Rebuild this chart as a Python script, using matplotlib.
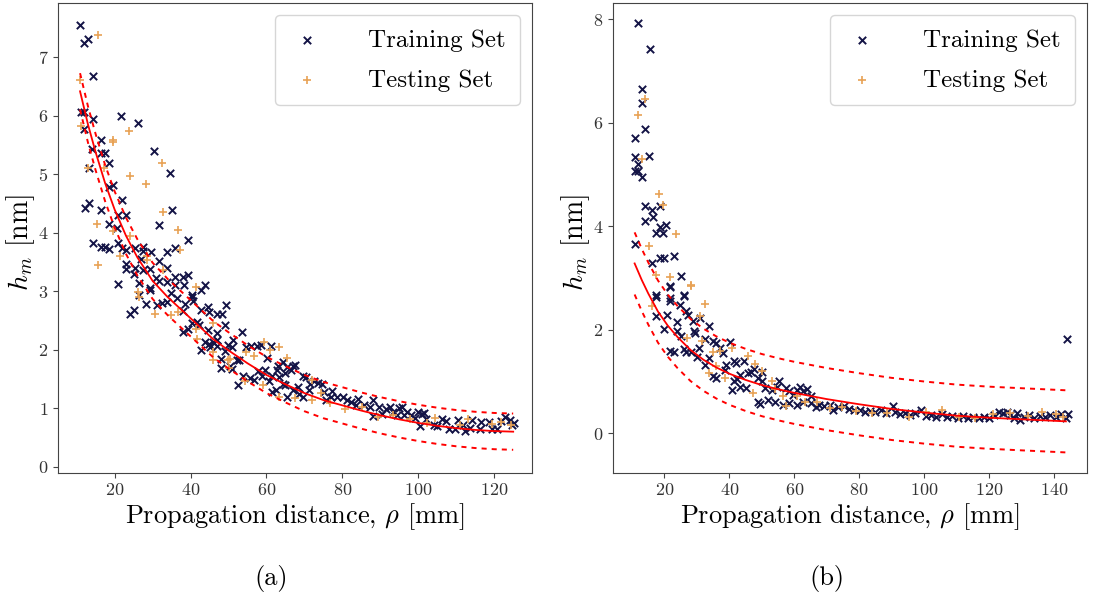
import matplotlib
matplotlib.use("Agg")
import matplotlib.pyplot as plt

plt.rcParams['font.family'] = 'serif'
plt.rcParams['font.serif'] = ['cmr10']
plt.rcParams['mathtext.fontset'] = 'cm'
plt.rcParams['axes.formatter.use_mathtext'] = True
plt.rcParams['axes.unicode_minus'] = False

# ---------------- panel (a) ----------------
a_train_x = [10.9, 12.0, 13.1, 14.3, 11.1, 12.0, 14.3, 12.0, 16.4, 14.1, 16.4, 17.6, 18.6, 13.3,
             21.8, 26.2, 30.5, 34.7, 19.7, 18.5, 21.9, 12.2, 13.2, 16.5, 23.1, 20.9, 18.6, 20.7,
             31.6, 35.0, 14.3, 16.5, 17.6, 18.6, 20.8, 22.0, 23.0, 25.3, 27.4, 27.5, 29.5, 27.0,
             31.6, 33.9, 35.9, 39.4, 22.9, 23.1, 25.4, 25.2, 27.4, 29.4, 33.9, 30.8, 31.7, 33.8,
             35.9, 38.1, 39.4, 20.9, 26.4, 29.4, 35.9, 38.3, 43.9, 42.7, 40.3, 26.4,
             24.1, 25.2, 29.4, 28.4, 31.1, 32.4, 33.9, 34.9, 36.5, 38.1, 38.6, 40.4, 40.6, 42.8,
             44.7, 44.9, 47.0, 48.3, 49.4, 38.1, 39.4, 40.3, 41.7, 42.3, 44.7, 47.1, 49.2, 42.8,
             43.7, 44.9, 45.8, 47.0, 45.2, 46.9, 48.1, 49.1, 49.9, 50.8, 51.3, 53.6, 52.2, 52.8,
             47.9, 50.3, 50.8, 52.4, 53.8, 54.5, 56.0, 57.4, 58.5, 61.2, 60.2, 55.6, 56.8, 57.8,
             58.7, 59.7, 60.7, 61.5, 62.7, 63.0, 64.4, 65.4, 64.8, 66.5, 67.0, 67.6, 64.9, 64.4,
             63.3, 61.5, 62.4, 65.5, 67.1, 68.4, 68.7, 69.6, 70.5, 69.6, 71.1, 71.5, 72.5, 73.7,
             74.7, 75.1, 75.8, 76.9, 77.4, 78.7, 80.1, 81.2, 82.3, 83.5, 84.2, 85.8, 87.3, 88.2,
             88.2, 89.6, 90.4, 91.4, 92.6, 93.3, 94.4, 95.0, 95.8, 96.2, 96.9, 98.1, 99.2, 99.8,
             100.5, 101.0, 101.6, 102.0, 104.1, 105.0, 106.2, 107.4, 108.0, 109.6, 110.5, 111.8,
             112.4, 113.6, 114.2, 116.2, 116.6, 118.7, 119.5, 120.7, 121.8, 122.9, 124.1, 124.8,
             125.2]
a_train_y = [7.56, 7.24, 7.31, 6.68, 6.07, 6.07, 5.95, 5.78, 5.58, 5.43, 5.37, 5.37, 5.19, 5.11,
             6.00, 5.87, 5.40, 5.03, 4.82, 4.78, 4.56, 4.42, 4.51, 4.39, 4.31, 4.30, 4.15, 4.08,
             4.14, 4.39, 3.82, 3.76, 3.76, 3.72, 3.83, 3.74, 3.71, 3.74, 3.75, 3.69, 3.68, 3.56,
             3.52, 3.67, 3.74, 3.88, 3.47, 3.38, 3.40, 3.29, 3.37, 3.38, 3.40, 3.23, 3.17, 3.16,
             3.24, 3.25, 3.28, 3.13, 3.14, 3.06, 3.10, 3.11, 3.10, 3.02, 2.94, 2.93,
             2.62, 2.68, 3.03, 2.79, 2.76, 2.80, 2.81, 2.97, 2.88, 2.67, 2.78, 2.91, 2.84, 2.68,
             2.73, 2.64, 2.62, 2.61, 2.77, 2.30, 2.36, 2.46, 2.48, 2.43, 2.34, 2.29, 2.43, 1.99,
             2.14, 2.10, 2.13, 2.16, 2.05, 2.07, 1.84, 1.98, 2.09, 2.04, 2.17, 2.31, 1.83, 1.82,
             1.69, 1.73, 1.68, 1.40, 1.55, 2.05, 2.07, 2.07, 2.09, 2.06, 1.86, 1.52, 1.48, 1.64,
             1.56, 1.66, 1.47, 1.56, 1.65, 1.73, 1.79, 1.70, 1.61, 1.65, 1.73, 1.74, 1.39, 1.42,
             1.53, 1.28, 1.31, 1.19, 1.32, 1.37, 1.24, 1.55, 1.54, 1.20, 1.31, 1.42, 1.47, 1.43,
             1.42, 1.27, 1.14, 1.20, 1.30, 1.19, 1.20, 1.14, 1.10, 1.05, 1.16, 1.06, 1.03, 1.15,
             0.86, 1.02, 0.90, 0.98, 1.02, 0.93, 0.88, 1.01, 1.02, 0.89, 0.94, 0.89, 0.84, 0.93,
             0.69, 0.91, 0.92, 0.81, 0.72, 0.70, 0.81, 0.78, 0.64, 0.65, 0.80, 0.71,
             0.61, 0.66, 0.80, 0.64, 0.76, 0.76, 0.64, 0.64, 0.78, 0.85, 0.80, 0.72,
             0.74]

a_test_x = [15.5, 10.9, 11.1, 12.9, 17.3, 19.7, 19.7, 23.9, 24.1, 28.3, 32.5, 32.8, 36.8, 37.2,
            15.3, 15.5, 19.5, 24.1, 21.5, 28.6, 28.6, 32.7, 41.5, 26.2, 26.4, 30.6, 34.9, 36.7,
            41.5, 41.6, 45.8, 45.8, 45.8, 49.9, 50.1, 50.5, 54.4, 54.6, 56.7, 59.3, 59.1, 61.0,
            63.4, 65.4, 63.3, 67.6, 72.0, 72.0, 74.4, 76.7, 80.7, 85.1, 89.4, 93.4, 97.7, 102.3,
            104.4, 111.1, 113.0, 119.4, 121.8, 124.3]
a_test_y = [7.39, 6.61, 5.82, 5.11, 5.11, 5.59, 5.55, 5.74, 4.98, 4.84, 5.20, 4.36, 4.04, 3.71,
            4.15, 3.45, 4.03, 3.94, 3.60, 3.60, 3.54, 3.36, 3.07, 2.98, 2.90, 2.62, 2.60, 2.65,
            2.35, 2.18, 2.46, 1.97, 1.82, 1.82, 1.69, 1.85, 1.46, 1.96, 1.89, 2.14, 1.40, 1.99,
            2.05, 1.86, 1.20, 1.17, 1.15, 1.48, 1.26, 1.09, 0.98, 1.03, 0.85, 0.89, 0.81, 0.74,
            0.84, 0.72, 0.81, 0.73, 0.77, 0.72]

a_fit_x = [10.9, 13, 15, 17.5, 20, 23, 26, 30, 34, 38, 42, 46, 50, 55, 60, 65, 70, 75, 80,
           85, 90, 95, 100, 105, 110, 115, 120, 125]
a_fit_y = [6.42, 5.85, 5.38, 4.85, 4.40, 3.95, 3.58, 3.18, 2.90, 2.66, 2.42, 2.18, 1.99, 1.77,
           1.57, 1.41, 1.26, 1.14, 1.05, 0.96, 0.88, 0.81, 0.75, 0.70, 0.66, 0.63, 0.61, 0.60]
a_upper_y = [6.73, 6.16, 5.69, 5.16, 4.71, 4.26, 3.89, 3.49, 3.21, 2.97, 2.73, 2.49, 2.30, 2.08,
             1.88, 1.72, 1.57, 1.45, 1.36, 1.27, 1.19, 1.12, 1.06, 1.01, 0.97, 0.94, 0.92, 0.91]
a_lower_y = [6.11, 5.54, 5.07, 4.54, 4.09, 3.64, 3.27, 2.87, 2.59, 2.35, 2.11, 1.87, 1.68, 1.46,
             1.26, 1.10, 0.95, 0.83, 0.74, 0.65, 0.57, 0.50, 0.44, 0.39, 0.35, 0.32, 0.30, 0.29]

# ---------------- panel (b) ----------------
b_train_x = [11.8, 15.4, 13.2, 13.1, 14.1, 10.9, 10.8, 15.1, 11.9, 10.8, 11.8, 13.1, 14.1, 16.3,
             14.1, 16.4, 18.5, 20.5, 18.6, 17.3, 19.6, 10.9, 16.2, 18.6, 19.7, 22.9, 25.1, 21.8,
             17.4, 25.9, 21.6,
             21.8, 17.5, 17.5, 20.8, 21.8, 24.9, 26.1, 26.7, 27.2, 19.7, 23.9, 23.9, 25.0, 29.2,
             29.4, 28.8, 31.1, 33.7, 21.8, 22.9, 26.1, 26.7, 28.3, 30.5, 30.0, 32.6, 34.8, 35.9,
             33.7, 32.6, 37.0, 38.0, 40.2, 41.3, 42.1, 44.5, 39.1, 34.8, 35.9, 38.6, 41.3, 42.3,
             43.4, 45.6, 46.6, 47.7, 49.9, 48.8, 40.7, 43.4, 45.0, 49.9, 51.0, 53.1, 55.3, 54.7,
             57.4, 58.5, 59.6, 60.7, 61.7, 62.8, 63.9, 65.0, 48.8, 49.3, 52.0, 54.2, 56.4, 58.5,
             60.7, 62.8, 65.0, 66.6, 67.7, 69.3, 70.9, 72.0, 73.6, 75.2, 76.9, 78.5, 80.1, 81.7,
             83.3, 84.9, 86.6, 88.2, 90.3, 90.9, 92.5, 94.1, 95.7, 97.3, 99.0, 100.6, 102.2,
             103.8, 105.4, 107.1, 108.7, 110.3, 111.9, 113.5, 115.1, 116.8, 118.4, 120.0, 121.6,
             123.2, 124.3, 125.4, 126.5, 127.6, 128.6, 129.7, 130.8, 132.4, 134.0, 135.6, 137.3,
             138.9, 140.5, 142.1, 143.7, 144.3, 144.1]
b_train_y = [7.92, 7.43, 6.65, 6.38, 5.87, 5.70, 5.34, 5.35, 5.21, 5.07, 5.07, 4.94, 4.38, 4.31,
             4.10, 4.17, 4.39, 4.03, 3.99, 3.87, 3.87, 3.65, 3.28, 3.39, 3.39, 3.43, 3.03, 2.85,
             2.67, 2.67, 2.61,
             2.82, 2.63, 2.27, 2.29, 2.55, 2.48, 2.65, 2.37, 2.29, 2.02, 2.15, 1.97, 1.87, 1.97,
             1.94, 2.16, 2.23, 2.08, 1.59, 1.56, 1.63, 1.56, 1.56, 1.65, 1.48, 1.83, 1.79, 1.75,
             1.45, 1.31, 1.65, 1.55, 1.76, 1.39, 1.35, 1.39, 1.32, 1.11, 1.06, 1.23, 1.00, 1.05,
             1.13, 1.16, 1.19, 1.25, 1.19, 1.06, 0.84, 0.90, 0.87, 1.00, 0.87, 0.84, 1.00, 0.90,
             0.87, 0.81, 0.74, 0.84, 0.90, 0.81, 0.86, 0.71, 0.61, 0.56, 0.65, 0.61, 0.54, 0.58,
             0.55, 0.61, 0.58, 0.50, 0.55, 0.52, 0.54, 0.45, 0.50, 0.52, 0.47, 0.45, 0.45, 0.42,
             0.43, 0.41, 0.45, 0.39, 0.52, 0.41, 0.37, 0.40, 0.35, 0.39, 0.45, 0.34, 0.35,
             0.32, 0.37, 0.32, 0.34, 0.30, 0.34, 0.30, 0.32, 0.29, 0.32, 0.30, 0.35,
             0.42, 0.39, 0.42, 0.35, 0.29, 0.39, 0.26, 0.32, 0.35, 0.29, 0.34, 0.32,
             0.35, 0.32, 0.37, 0.29, 0.37, 1.83]

b_test_x = [14.0, 11.9, 13.0, 18.4, 19.5, 23.6, 15.1, 17.3, 21.7, 28.1, 16.1, 28.1, 32.4, 30.8,
            27.0, 31.5, 34.8, 37.0, 33.7, 35.9, 38.6, 40.7, 45.6, 48.0, 49.9, 47.2, 53.1, 54.2,
            56.4, 57.4, 60.7, 63.4, 67.1, 70.9, 74.7, 79.0, 83.9, 88.7, 95.2, 100.6, 105.4,
            110.8, 115.7, 121.1, 126.5, 131.9, 136.2, 140.5, 142.7]
b_test_y = [6.46, 6.15, 5.30, 4.63, 4.41, 3.85, 3.61, 3.06, 3.01, 2.86, 2.46, 2.85, 2.50, 2.26,
            1.84, 1.79, 1.56, 1.58, 1.16, 1.29, 1.06, 1.65, 1.50, 1.34, 1.21, 0.77, 1.00, 0.86,
            0.71, 0.52, 0.71, 0.61, 0.61, 0.48, 0.50, 0.43, 0.39, 0.40, 0.32, 0.42, 0.45,
            0.32, 0.29, 0.37, 0.40, 0.34, 0.41, 0.37, 0.32]

b_fit_x = [10.8, 13, 15, 18, 21, 24, 28, 32, 36, 40, 45, 50, 55, 60, 70, 80, 90, 100, 110,
           120, 130, 143.7]
b_fit_y = [3.28, 2.96, 2.70, 2.35, 2.08, 1.86, 1.61, 1.42, 1.27, 1.15, 1.03, 0.93, 0.85, 0.78,
           0.66, 0.56, 0.47, 0.40, 0.34, 0.30, 0.27, 0.23]
b_upper_y = [3.88, 3.56, 3.30, 2.95, 2.68, 2.46, 2.21, 2.02, 1.87, 1.75, 1.63, 1.53, 1.45, 1.38,
             1.26, 1.16, 1.07, 1.00, 0.94, 0.90, 0.87, 0.83]
b_lower_y = [2.68, 2.36, 2.10, 1.75, 1.48, 1.26, 1.01, 0.82, 0.67, 0.55, 0.43, 0.33, 0.25, 0.18,
             0.06, -0.04, -0.13, -0.20, -0.26, -0.30, -0.33, -0.37]

train_color = '#141446'
test_color = '#e8a255'
fs_label = 19
fs_tick = 13
fs_leg = 18

fig = plt.figure(figsize=(10.95, 5.99), dpi=100)
ax1 = fig.add_axes([0.053, 0.211, 0.433, 0.784])
ax2 = fig.add_axes([0.560, 0.211, 0.433, 0.784])

panels = [
    (ax1, a_train_x, a_train_y, a_test_x, a_test_y, a_fit_x, a_fit_y, a_upper_y, a_lower_y,
     (5.1, 130.0), (-0.1, 7.93), [0, 1, 2, 3, 4, 5, 6, 7], '(a)'),
    (ax2, b_train_x, b_train_y, b_test_x, b_test_y, b_fit_x, b_fit_y, b_upper_y, b_lower_y,
     (4.2, 150.3), (-0.76, 8.31), [0, 2, 4, 6, 8], '(b)'),
]

for ax, tx, ty, sx, sy, fx, fy, fu, fl, xl, yl, yt, tag in panels:
    ax.scatter(tx, ty, marker='x', s=28, linewidths=1.4, color=train_color, label='Training Set', zorder=3)
    ax.scatter(sx, sy, marker='+', s=40, linewidths=1.2, color=test_color, label='Testing Set', zorder=3)
    ax.plot(fx, fy, color='red', lw=1.3, zorder=4)
    ax.plot(fx, fu, color='red', lw=1.4, ls=(0, (2.6, 2.6)), zorder=4)
    ax.plot(fx, fl, color='red', lw=1.4, ls=(0, (2.6, 2.6)), zorder=4)
    ax.set_xlim(xl)
    ax.set_ylim(yl)
    ax.set_xticks([20, 40, 60, 80, 100, 120] if tag == '(a)' else [20, 40, 60, 80, 100, 120, 140])
    ax.set_yticks(yt)
    ax.tick_params(labelsize=fs_tick, colors='#444444', labelcolor='#333333')
    for sp in ax.spines.values():
        sp.set_color('#444444')
    ax.set_xlabel(r'Propagation distance, $\rho$ [mm]', fontsize=fs_label, labelpad=2)
    ax.set_ylabel(r'$h_m$ [nm]', fontsize=fs_label + 1)
    ax.yaxis.set_label_coords(-0.045, 0.49)
    ax.legend(loc='upper right', fontsize=fs_leg, handlelength=1.5, handletextpad=1.7,
              borderpad=0.55, labelspacing=0.7, scatterpoints=1, borderaxespad=0.5)

fig.text(0.248, 0.035, '(a)', ha='center', va='center', fontsize=19)
fig.text(0.755, 0.035, '(b)', ha='center', va='center', fontsize=19)

fig.savefig('out.png', dpi=100)
